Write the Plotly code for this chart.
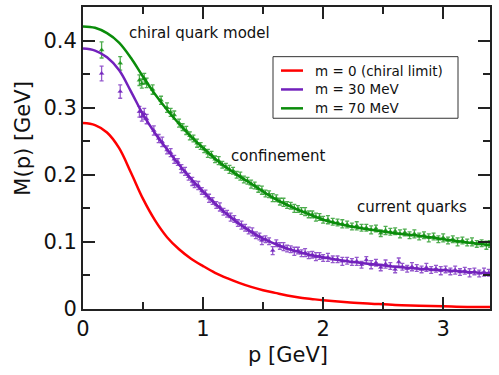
import plotly.graph_objects as go

# ---------------- data ----------------
p_curve = [0.0, 0.1, 0.2, 0.3, 0.4, 0.5, 0.6, 0.7, 0.8, 0.9, 1.0, 1.1, 1.2, 1.3, 1.4,
           1.5, 1.6, 1.7, 1.8, 1.9, 2.0, 2.2, 2.4, 2.6, 2.8, 3.0, 3.2, 3.4]
m_red = [0.277, 0.274, 0.263, 0.240, 0.203, 0.164, 0.132, 0.107, 0.089, 0.075, 0.064, 0.054,
         0.046, 0.039, 0.033, 0.028, 0.024, 0.020, 0.017, 0.015, 0.013, 0.010, 0.008, 0.006,
         0.005, 0.004, 0.003, 0.003]
m_purple = [0.388, 0.385, 0.375, 0.356, 0.324, 0.290, 0.262, 0.238, 0.215, 0.194, 0.175, 0.157,
            0.141, 0.127, 0.115, 0.105, 0.097, 0.090, 0.085, 0.080, 0.077, 0.071, 0.067, 0.063,
            0.060, 0.058, 0.055, 0.053]
m_green = [0.421, 0.419, 0.411, 0.397, 0.374, 0.346, 0.320, 0.297, 0.276, 0.257, 0.240, 0.224,
           0.210, 0.198, 0.187, 0.175, 0.164, 0.155, 0.147, 0.140, 0.133, 0.124, 0.118, 0.113,
           0.109, 0.104, 0.099, 0.095]

p_green_pts = [0.155, 0.31, 0.47, 0.49, 0.51, 0.53, 0.58, 0.65, 0.70, 0.73, 0.76, 0.80, 0.83, 0.86, 0.89, 0.92, 0.95, 0.98,
               1.01, 1.04, 1.07, 1.10, 1.13, 1.16, 1.19, 1.22, 1.25, 1.28, 1.31, 1.34, 1.37, 1.40, 1.43, 1.46, 1.49, 1.52,
               1.55, 1.58, 1.61, 1.64, 1.67, 1.70, 1.73, 1.76, 1.79, 1.82, 1.85, 1.88, 1.91, 1.94, 1.97,
               2.00, 2.04, 2.08, 2.12, 2.16, 2.20, 2.24, 2.28, 2.32, 2.36, 2.40, 2.44, 2.48, 2.52, 2.56, 2.60, 2.64, 2.68,
               2.72, 2.76, 2.80, 2.84, 2.88, 2.92, 2.96, 3.00, 3.04, 3.08, 3.12, 3.16, 3.20, 3.24, 3.28, 3.32, 3.36, 3.39]
m_green_pts = [0.386, 0.366, 0.341, 0.336, 0.343, 0.337, 0.327, 0.311, 0.300, 0.293, 0.289, 0.277, 0.271, 0.266, 0.258, 0.254, 0.247, 0.243,
               0.238, 0.232, 0.230, 0.223, 0.221, 0.215, 0.212, 0.208, 0.206, 0.200, 0.198, 0.193, 0.191, 0.186, 0.184, 0.179, 0.177, 0.172,
               0.171, 0.166, 0.165, 0.160, 0.159, 0.155, 0.154, 0.150, 0.149, 0.146, 0.145, 0.141, 0.141, 0.137, 0.137,
               0.133, 0.133, 0.130, 0.129, 0.127, 0.126, 0.123, 0.124, 0.121, 0.121, 0.118, 0.120, 0.113, 0.117, 0.115, 0.116, 0.112, 0.114,
               0.110, 0.112, 0.108, 0.110, 0.106, 0.108, 0.104, 0.106, 0.102, 0.104, 0.100, 0.102, 0.099, 0.100, 0.097, 0.098, 0.095, 0.097]
e_green_pts = [0.012, 0.010, 0.008, 0.007, 0.008, 0.007, 0.007, 0.006, 0.007, 0.006, 0.006, 0.006, 0.005, 0.006, 0.006, 0.005, 0.006, 0.005,
               0.005, 0.006, 0.005, 0.005, 0.006, 0.005, 0.005, 0.006, 0.005, 0.005, 0.006, 0.005, 0.005, 0.006, 0.005, 0.005, 0.006, 0.005,
               0.005, 0.006, 0.005, 0.005, 0.006, 0.005, 0.005, 0.006, 0.005, 0.005, 0.006, 0.005, 0.005, 0.006, 0.005,
               0.005, 0.006, 0.005, 0.005, 0.006, 0.005, 0.005, 0.006, 0.005, 0.005, 0.006, 0.005, 0.005, 0.006, 0.005, 0.005, 0.006, 0.005,
               0.005, 0.006, 0.005, 0.005, 0.006, 0.005, 0.005, 0.006, 0.005, 0.005, 0.006, 0.005, 0.005, 0.006, 0.005, 0.005, 0.006, 0.005]

p_purple_pts = [0.155, 0.31, 0.47, 0.49, 0.51, 0.53, 0.59, 0.63, 0.66, 0.70, 0.73, 0.76, 0.79, 0.82, 0.85, 0.88, 0.91, 0.93, 0.96, 0.99,
                1.02, 1.05, 1.08, 1.11, 1.14, 1.17, 1.20, 1.23, 1.26, 1.29, 1.32, 1.35, 1.38, 1.41, 1.44, 1.47, 1.49, 1.52,
                1.55, 1.58, 1.61, 1.64, 1.67, 1.70, 1.73, 1.76, 1.79, 1.82, 1.85, 1.88, 1.91, 1.94, 1.97,
                2.00, 2.04, 2.08, 2.12, 2.16, 2.20, 2.24, 2.28, 2.32, 2.36, 2.40, 2.44, 2.48, 2.52, 2.56, 2.60, 2.63, 2.66,
                2.70, 2.74, 2.78, 2.82, 2.86, 2.90, 2.94, 2.98, 3.02, 3.06, 3.10, 3.14, 3.18, 3.22, 3.26, 3.30, 3.34, 3.38]
m_purple_pts = [0.351, 0.324, 0.294, 0.287, 0.291, 0.283, 0.266, 0.254, 0.249, 0.237, 0.233, 0.223, 0.219, 0.209, 0.205, 0.197, 0.190, 0.186, 0.184, 0.176,
                0.172, 0.165, 0.161, 0.155, 0.152, 0.145, 0.142, 0.137, 0.134, 0.128, 0.125, 0.121, 0.117, 0.115, 0.110, 0.108, 0.102, 0.104,
                0.101, 0.087, 0.098, 0.094, 0.093, 0.090, 0.089, 0.086, 0.087, 0.083, 0.084, 0.080, 0.081, 0.078, 0.079,
                0.076, 0.077, 0.074, 0.074, 0.071, 0.072, 0.070, 0.071, 0.066, 0.073, 0.066, 0.069, 0.062, 0.067, 0.064, 0.059, 0.070, 0.063,
                0.060, 0.063, 0.061, 0.059, 0.062, 0.058, 0.060, 0.057, 0.059, 0.056, 0.058, 0.055, 0.057, 0.054, 0.056, 0.053, 0.055, 0.054]
e_purple_pts = [0.011, 0.010, 0.008, 0.007, 0.008, 0.007, 0.007, 0.006, 0.007, 0.006, 0.006, 0.006, 0.005, 0.006, 0.006, 0.005, 0.006, 0.005, 0.006, 0.005,
                0.005, 0.006, 0.005, 0.005, 0.006, 0.005, 0.005, 0.006, 0.005, 0.005, 0.006, 0.005, 0.005, 0.006, 0.005, 0.005, 0.006, 0.005,
                0.005, 0.006, 0.005, 0.005, 0.006, 0.005, 0.005, 0.006, 0.005, 0.005, 0.006, 0.005, 0.005, 0.006, 0.005,
                0.005, 0.006, 0.005, 0.005, 0.006, 0.005, 0.005, 0.006, 0.005, 0.005, 0.006, 0.005, 0.005, 0.006, 0.005, 0.005, 0.006, 0.005,
                0.005, 0.006, 0.005, 0.005, 0.006, 0.005, 0.005, 0.006, 0.005, 0.005, 0.006, 0.005, 0.005, 0.006, 0.005, 0.005, 0.006, 0.005]

legend_labels = ["m = 0 (chiral limit)", "m = 30 MeV", "m = 70 MeV"]
x_tick_vals = [0, 1, 2, 3]
y_tick_vals = [0, 0.1, 0.2, 0.3, 0.4]
y_tick_text = ["0", "0.1", "0.2", "0.3", "0.4"]

# ---------------- style ----------------
RED = "#ff0000"
PURPLE = "#7221bc"
GREEN = "#0a8c0a"
FONT = "DejaVu Sans"
TXT = "#111111"

W, H = 499, 375
L, R, T, B = 83, 9, 5, 66
pw, ph = W - L - R, H - T - B

def px2x(x):
    return (x - L) / pw

def py2y(y):
    return (H - B - y) / ph

fig = go.Figure()

# data points
for px_, my_, ey_, col in [(p_purple_pts, m_purple_pts, e_purple_pts, "rgba(114,33,188,0.75)"),
                           (p_green_pts, m_green_pts, e_green_pts, "rgba(20,145,20,0.75)")]:
    fig.add_trace(go.Scatter(
        x=px_, y=my_, mode="markers", showlegend=False, hoverinfo="skip",
        marker=dict(symbol="triangle-up", size=5, color=col, line=dict(width=0)),
        error_y=dict(type="data", array=ey_, visible=True, color=col, thickness=1.3, width=2),
        error_x=dict(type="constant", value=0.013, visible=True, color=col, thickness=1.1, width=0),
    ))

# curves
curve_colors = [RED, PURPLE, GREEN]
for m_vals, col, name in zip([m_red, m_purple, m_green], curve_colors, legend_labels):
    fig.add_trace(go.Scatter(x=p_curve, y=m_vals, mode="lines", name=name, showlegend=False,
                             line=dict(color=col, width=2.5, shape="spline", smoothing=1.0)))

axis_common = dict(
    showline=True, linecolor="#222222", linewidth=2, mirror="allticks",
    ticks="inside", ticklen=12, tickwidth=1.6, tickcolor="#222222",
    showgrid=False, zeroline=False,
    tickfont=dict(family=FONT, size=21, color=TXT),
)

fig.update_layout(
    width=W, height=H,
    margin=dict(l=L, r=R, t=T, b=B),
    paper_bgcolor="white", plot_bgcolor="white",
    font=dict(family=FONT, color=TXT),
    showlegend=False,
    xaxis=dict(range=[0, 3.39], tickvals=x_tick_vals,
               minor=dict(ticks="inside", ticklen=7, tickwidth=1.6, tickcolor="#222222", dtick=0.5, tick0=0, showgrid=False),
               **axis_common),
    yaxis=dict(range=[0, 0.45], tickvals=y_tick_vals, ticktext=y_tick_text,
               minor=dict(ticks="inside", ticklen=7, tickwidth=1.6, tickcolor="#222222", dtick=0.05, tick0=0, showgrid=False),
               **axis_common),
)

# legend box (drawn manually to match the original layout)
fig.add_shape(type="rect", xref="paper", yref="paper",
              x0=px2x(273), x1=px2x(458), y0=py2y(117), y1=py2y(55),
              line=dict(color="#333333", width=1), fillcolor="white", layer="above")
for i, (lab, col) in enumerate(zip(legend_labels, curve_colors)):
    yy = py2y(69 + 19 * i)
    fig.add_shape(type="line", xref="paper", yref="paper",
                  x0=px2x(281), x1=px2x(303), y0=yy, y1=yy,
                  line=dict(color=col, width=2.5), layer="above")
    fig.add_annotation(text=lab, x=px2x(313), y=yy, xref="paper", yref="paper",
                       xanchor="left", yanchor="middle", showarrow=False,
                       font=dict(family=FONT, size=13.5, color=TXT))

annotations = [
    dict(text="chiral quark model", x=px2x(199.5), y=py2y(31), size=15, angle=0),
    dict(text="confinement", x=px2x(278), y=py2y(155), size=15, angle=0),
    dict(text="current quarks", x=px2x(412), y=py2y(206), size=15, angle=0),
    dict(text="M(p) [GeV]", x=px2x(23), y=py2y(137.5), size=21, angle=-90),
    dict(text="p [GeV]", x=px2x(288), y=py2y(355), size=21, angle=0),
]
for a in annotations:
    fig.add_annotation(text=a["text"], x=a["x"], y=a["y"], xref="paper", yref="paper",
                       xanchor="center", yanchor="middle", showarrow=False, textangle=a["angle"],
                       font=dict(family=FONT, size=a["size"], color=TXT))

fig.write_html("out.html", config={"displayModeBar": False},
               post_script="document.body.style.margin='0';")
